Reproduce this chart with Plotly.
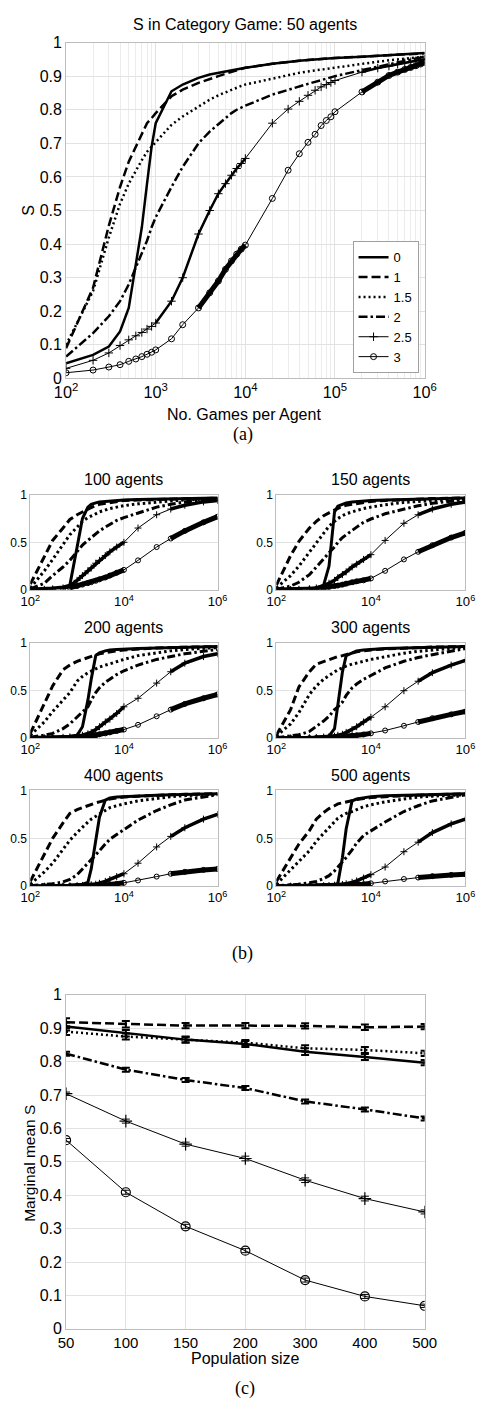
import plotly.graph_objects as go

# ---------------- data ----------------
LABELS = ["0", "1", "1.5", "2", "2.5", "3"]

# (a) 50 agents
GAMES_A = [100, 200, 300, 400, 500, 600, 700, 800, 900, 1000, 1500, 2000, 3000, 4000, 5000,
           6000, 7000, 8000, 9000, 10000, 20000, 30000, 40000, 50000, 60000, 70000, 80000,
           90000, 100000, 200000, 300000, 400000, 500000, 600000, 700000, 800000, 900000, 1000000]
A_0 = [0.045, 0.07, 0.095, 0.14, 0.21, 0.34, 0.45, 0.58, 0.69, 0.76, 0.855, 0.875, 0.895, 0.905, 0.91,
       0.915, 0.918, 0.92, 0.922, 0.925, 0.937, 0.943, 0.946, 0.948, 0.95, 0.951, 0.952, 0.953,
       0.954, 0.958, 0.961, 0.963, 0.964, 0.965, 0.966, 0.967, 0.968, 0.969]
A_1 = [0.09, 0.27, 0.455, 0.57, 0.645, 0.69, 0.73, 0.76, 0.775, 0.79, 0.84, 0.86, 0.88, 0.89, 0.9,
       0.907, 0.912, 0.916, 0.92, 0.925, 0.937, 0.943, 0.946, 0.948, 0.95, 0.951, 0.952, 0.953,
       0.954, 0.958, 0.96, 0.962, 0.963, 0.964, 0.965, 0.966, 0.967, 0.968]
A_15 = [0.1, 0.26, 0.42, 0.52, 0.58, 0.62, 0.65, 0.675, 0.69, 0.705, 0.755, 0.78, 0.81, 0.83, 0.843,
        0.852, 0.86, 0.866, 0.871, 0.875, 0.893, 0.903, 0.91, 0.914, 0.917, 0.92, 0.923, 0.925,
        0.927, 0.938, 0.943, 0.947, 0.95, 0.952, 0.954, 0.956, 0.957, 0.958]
A_2 = [0.065, 0.135, 0.185, 0.23, 0.28, 0.33, 0.37, 0.41, 0.45, 0.48, 0.57, 0.63, 0.7, 0.735, 0.757,
       0.775, 0.79, 0.8, 0.807, 0.812, 0.845, 0.86, 0.87, 0.877, 0.883, 0.888, 0.892, 0.896,
       0.9, 0.918, 0.928, 0.935, 0.94, 0.945, 0.949, 0.952, 0.955, 0.958]
A_25 = [0.03, 0.054, 0.076, 0.098, 0.115, 0.127, 0.137, 0.147, 0.155, 0.165, 0.23, 0.3, 0.43, 0.5, 0.55,
        0.58, 0.605, 0.625, 0.64, 0.655, 0.76, 0.802, 0.825, 0.843, 0.858, 0.868, 0.875, 0.881,
        0.887, 0.912, 0.924, 0.93, 0.936, 0.94, 0.943, 0.946, 0.948, 0.95]
A_3 = [0.017, 0.025, 0.034, 0.041, 0.051, 0.058, 0.065, 0.072, 0.078, 0.085, 0.118, 0.16, 0.21, 0.255,
       0.29, 0.325, 0.35, 0.37, 0.385, 0.397, 0.536, 0.62, 0.669, 0.703, 0.727, 0.753, 0.768,
       0.779, 0.794, 0.853, 0.882, 0.902, 0.912, 0.92, 0.926, 0.931, 0.936, 0.941]

# (b) population panels
GAMES_B = [100, 200, 300, 500, 700, 1000, 1300, 1700, 2000, 2500, 3000, 4000, 5000, 7000,
           10000, 20000, 50000, 100000, 200000, 500000, 1000000]

P100_0 = [0.01, 0.015, 0.02, 0.03, 0.05, 0.45, 0.75, 0.87, 0.9, 0.915, 0.925, 0.93, 0.935, 0.94, 0.945, 0.95, 0.955, 0.958, 0.96, 0.963, 0.965]
P100_1 = [0.06, 0.34, 0.52, 0.65, 0.74, 0.79, 0.82, 0.85, 0.87, 0.89, 0.9, 0.91, 0.92, 0.93, 0.94, 0.945, 0.95, 0.955, 0.958, 0.962, 0.965]
P100_15 = [0.02, 0.2, 0.32, 0.48, 0.58, 0.66, 0.72, 0.76, 0.78, 0.8, 0.82, 0.84, 0.855, 0.87, 0.885, 0.905, 0.925, 0.935, 0.945, 0.955, 0.96]
P100_2 = [0.01, 0.07, 0.15, 0.24, 0.31, 0.4, 0.47, 0.52, 0.55, 0.59, 0.62, 0.66, 0.69, 0.73, 0.76, 0.81, 0.87, 0.9, 0.925, 0.945, 0.955]
P100_25 = [0.0, 0.005, 0.01, 0.02, 0.04, 0.1, 0.15, 0.2, 0.23, 0.28, 0.31, 0.36, 0.4, 0.45, 0.5, 0.65, 0.79, 0.85, 0.89, 0.925, 0.94]
P100_3 = [0.0, 0.002, 0.004, 0.01, 0.02, 0.04, 0.055, 0.07, 0.08, 0.095, 0.11, 0.13, 0.15, 0.18, 0.21, 0.31, 0.45, 0.54, 0.62, 0.71, 0.77]

P150_0 = [0.01, 0.012, 0.015, 0.02, 0.02, 0.05, 0.25, 0.82, 0.88, 0.9, 0.915, 0.925, 0.93, 0.935, 0.94, 0.945, 0.95, 0.955, 0.958, 0.962, 0.965]
P150_1 = [0.05, 0.36, 0.51, 0.65, 0.72, 0.78, 0.81, 0.84, 0.86, 0.88, 0.89, 0.9, 0.91, 0.92, 0.93, 0.94, 0.95, 0.955, 0.96, 0.963, 0.966]
P150_15 = [0.02, 0.15, 0.25, 0.4, 0.5, 0.6, 0.67, 0.72, 0.75, 0.78, 0.8, 0.82, 0.835, 0.855, 0.87, 0.895, 0.92, 0.93, 0.94, 0.95, 0.955]
P150_2 = [0.005, 0.04, 0.08, 0.16, 0.24, 0.33, 0.39, 0.45, 0.5, 0.55, 0.58, 0.63, 0.66, 0.71, 0.745, 0.8, 0.85, 0.885, 0.91, 0.935, 0.95]
P150_25 = [0.0, 0.003, 0.006, 0.012, 0.02, 0.04, 0.07, 0.1, 0.13, 0.16, 0.19, 0.24, 0.27, 0.32, 0.37, 0.52, 0.7, 0.79, 0.85, 0.9, 0.925]
P150_3 = [0.0, 0.001, 0.002, 0.005, 0.01, 0.02, 0.03, 0.04, 0.045, 0.055, 0.065, 0.08, 0.09, 0.1, 0.12, 0.2, 0.32, 0.4, 0.47, 0.55, 0.6]

P200_0 = [0.005, 0.008, 0.01, 0.015, 0.02, 0.03, 0.12, 0.4, 0.62, 0.87, 0.9, 0.92, 0.93, 0.935, 0.94, 0.945, 0.95, 0.955, 0.958, 0.962, 0.965]
P200_1 = [0.05, 0.36, 0.55, 0.72, 0.77, 0.81, 0.83, 0.85, 0.865, 0.88, 0.89, 0.9, 0.91, 0.92, 0.93, 0.94, 0.95, 0.955, 0.96, 0.963, 0.966]
P200_15 = [0.03, 0.17, 0.28, 0.4, 0.48, 0.6, 0.65, 0.69, 0.71, 0.73, 0.75, 0.77, 0.79, 0.81, 0.83, 0.87, 0.9, 0.92, 0.935, 0.95, 0.955]
P200_2 = [0.01, 0.03, 0.05, 0.1, 0.15, 0.22, 0.28, 0.33, 0.4, 0.48, 0.53, 0.59, 0.62, 0.67, 0.71, 0.77, 0.83, 0.86, 0.89, 0.915, 0.935]
P200_25 = [0.0, 0.002, 0.004, 0.008, 0.012, 0.02, 0.03, 0.045, 0.06, 0.09, 0.12, 0.17, 0.2, 0.26, 0.33, 0.42, 0.58, 0.7, 0.79, 0.86, 0.89]
P200_3 = [0.0, 0.0, 0.001, 0.003, 0.005, 0.01, 0.015, 0.02, 0.025, 0.03, 0.04, 0.05, 0.06, 0.075, 0.09, 0.14, 0.23, 0.3, 0.36, 0.42, 0.46]

P300_0 = [0.005, 0.007, 0.008, 0.01, 0.01, 0.01, 0.02, 0.1, 0.35, 0.7, 0.87, 0.9, 0.92, 0.93, 0.935, 0.945, 0.95, 0.955, 0.958, 0.962, 0.965]
P300_1 = [0.03, 0.3, 0.54, 0.7, 0.78, 0.81, 0.83, 0.85, 0.86, 0.87, 0.88, 0.9, 0.91, 0.92, 0.93, 0.94, 0.95, 0.955, 0.96, 0.963, 0.966]
P300_15 = [0.02, 0.15, 0.27, 0.46, 0.55, 0.62, 0.66, 0.7, 0.72, 0.74, 0.76, 0.78, 0.79, 0.81, 0.83, 0.86, 0.895, 0.915, 0.93, 0.945, 0.955]
P300_2 = [0.005, 0.02, 0.035, 0.07, 0.12, 0.18, 0.23, 0.3, 0.33, 0.38, 0.45, 0.53, 0.57, 0.62, 0.66, 0.74, 0.81, 0.85, 0.88, 0.915, 0.945]
P300_25 = [0.0, 0.001, 0.002, 0.004, 0.006, 0.01, 0.015, 0.02, 0.03, 0.04, 0.06, 0.09, 0.12, 0.17, 0.22, 0.33, 0.5, 0.6, 0.69, 0.77, 0.82]
P300_3 = [0.0, 0.0, 0.0, 0.001, 0.002, 0.005, 0.007, 0.01, 0.012, 0.015, 0.018, 0.024, 0.03, 0.038, 0.05, 0.08, 0.13, 0.17, 0.21, 0.25, 0.28]

P400_0 = [0.005, 0.006, 0.007, 0.008, 0.009, 0.01, 0.02, 0.04, 0.18, 0.48, 0.72, 0.9, 0.92, 0.93, 0.935, 0.945, 0.95, 0.955, 0.958, 0.962, 0.965]
P400_1 = [0.05, 0.34, 0.5, 0.66, 0.76, 0.8, 0.82, 0.84, 0.86, 0.87, 0.88, 0.9, 0.91, 0.92, 0.93, 0.94, 0.95, 0.955, 0.96, 0.963, 0.966]
P400_15 = [0.02, 0.15, 0.24, 0.38, 0.48, 0.56, 0.62, 0.67, 0.7, 0.73, 0.75, 0.79, 0.82, 0.84, 0.86, 0.89, 0.92, 0.935, 0.945, 0.955, 0.96]
P400_2 = [0.005, 0.015, 0.025, 0.045, 0.07, 0.12, 0.18, 0.24, 0.27, 0.33, 0.37, 0.44, 0.49, 0.54, 0.59, 0.69, 0.79, 0.85, 0.9, 0.935, 0.955]
P400_25 = [0.0, 0.0, 0.001, 0.002, 0.003, 0.005, 0.008, 0.01, 0.015, 0.02, 0.03, 0.05, 0.07, 0.1, 0.13, 0.24, 0.41, 0.52, 0.61, 0.7, 0.75]
P400_3 = [0.0, 0.0, 0.0, 0.0, 0.001, 0.002, 0.003, 0.005, 0.006, 0.008, 0.01, 0.015, 0.018, 0.025, 0.035, 0.06, 0.1, 0.13, 0.15, 0.17, 0.18]

P500_0 = [0.005, 0.006, 0.007, 0.008, 0.009, 0.01, 0.012, 0.015, 0.03, 0.3, 0.6, 0.89, 0.91, 0.925, 0.935, 0.945, 0.95, 0.955, 0.958, 0.962, 0.965]
P500_1 = [0.05, 0.3, 0.44, 0.58, 0.7, 0.77, 0.81, 0.84, 0.86, 0.87, 0.88, 0.895, 0.905, 0.915, 0.925, 0.935, 0.945, 0.95, 0.955, 0.96, 0.965]
P500_15 = [0.02, 0.17, 0.25, 0.37, 0.47, 0.55, 0.62, 0.67, 0.71, 0.74, 0.76, 0.78, 0.8, 0.83, 0.85, 0.88, 0.91, 0.93, 0.94, 0.95, 0.955]
P500_2 = [0.005, 0.01, 0.02, 0.035, 0.05, 0.08, 0.11, 0.16, 0.2, 0.25, 0.3, 0.38, 0.45, 0.53, 0.58, 0.67, 0.78, 0.84, 0.89, 0.93, 0.955]
P500_25 = [0.0, 0.0, 0.001, 0.002, 0.003, 0.005, 0.007, 0.01, 0.013, 0.018, 0.025, 0.04, 0.055, 0.085, 0.12, 0.2, 0.36, 0.46, 0.56, 0.65, 0.7]
P500_3 = [0.0, 0.0, 0.0, 0.0, 0.001, 0.002, 0.003, 0.004, 0.005, 0.007, 0.009, 0.012, 0.015, 0.02, 0.03, 0.05, 0.075, 0.09, 0.105, 0.118, 0.125]

PANEL_TITLES = ["100 agents", "150 agents", "200 agents", "300 agents", "400 agents", "500 agents"]
PANEL_SERIES = [
    [P100_0, P100_1, P100_15, P100_2, P100_25, P100_3],
    [P150_0, P150_1, P150_15, P150_2, P150_25, P150_3],
    [P200_0, P200_1, P200_15, P200_2, P200_25, P200_3],
    [P300_0, P300_1, P300_15, P300_2, P300_25, P300_3],
    [P400_0, P400_1, P400_15, P400_2, P400_25, P400_3],
    [P500_0, P500_1, P500_15, P500_2, P500_25, P500_3],
]

# (c) marginal mean S vs population size
POP = ["50", "100", "150", "200", "300", "400", "500"]
C_0 = [0.905, 0.885, 0.866, 0.853, 0.83, 0.814, 0.797]
C_1 = [0.918, 0.912, 0.908, 0.908, 0.907, 0.903, 0.905]
C_15 = [0.89, 0.875, 0.866, 0.857, 0.84, 0.835, 0.825]
C_2 = [0.824, 0.776, 0.745, 0.721, 0.681, 0.657, 0.63]
C_25 = [0.704, 0.622, 0.553, 0.51, 0.445, 0.39, 0.35]
C_3 = [0.565, 0.409, 0.307, 0.234, 0.146, 0.097, 0.069]
E_0 = [0.012, 0.01, 0.009, 0.009, 0.01, 0.009, 0.008]
E_1 = [0.012, 0.01, 0.008, 0.008, 0.008, 0.008, 0.008]
E_15 = [0.01, 0.009, 0.008, 0.008, 0.009, 0.009, 0.008]
E_2 = [0.006, 0.006, 0.006, 0.006, 0.006, 0.006, 0.006]
E_25 = [0.005, 0.006, 0.006, 0.007, 0.007, 0.007, 0.006]
E_3 = [0.005, 0.006, 0.006, 0.006, 0.006, 0.006, 0.005]

# ---------------- styling ----------------
SANS = "Liberation Sans, Arial, sans-serif"
SERIF = "Liberation Serif, Times New Roman, serif"
GRID = "#e2e2e2"
FRAME = "#bdbdbd"

DASH_A = ["solid", "9px,4px", "2px,3px", "9px,3px,2.5px,3px", "solid", "solid"]
WIDTH_A = [2.5, 2.5, 2.5, 2.5, 1, 1]
DASH_B = ["solid", "8px,4px", "2.5px,3px", "8px,3px,2.5px,3px", "solid", "solid"]
WIDTH_B = [3, 3, 3, 3, 1, 1]
SYMBOLS = [None, None, None, None, "cross-thin-open", "circle-open"]

fig = go.Figure()


def segs(xs, ys, ranges):
    ox, oy = [], []
    for lo, hi in ranges:
        for x, y in zip(xs, ys):
            if lo <= x <= hi:
                ox.append(x)
                oy.append(y)
        ox.append(None)
        oy.append(None)
    return ox, oy


def add_curves(xs, series, xa, ya, dashes, widths, msize, over_ranges, over_widths, legend):
    for i, ys in enumerate(series):
        tr = dict(x=xs, y=ys, xaxis=xa, yaxis=ya, name=LABELS[i], showlegend=legend,
                  line=dict(color="black", width=widths[i], dash=dashes[i]), hoverinfo="skip")
        if SYMBOLS[i]:
            tr["mode"] = "lines+markers"
            tr["marker"] = dict(symbol=SYMBOLS[i], size=msize, color="black",
                                line=dict(color="black", width=1))
        else:
            tr["mode"] = "lines"
        fig.add_trace(go.Scatter(**tr))
        if SYMBOLS[i]:
            ox, oy = segs(xs, ys, over_ranges[i])
            fig.add_trace(go.Scatter(x=ox, y=oy, xaxis=xa, yaxis=ya, mode="lines",
                                     showlegend=False, hoverinfo="skip",
                                     line=dict(color="black", width=over_widths[i])))


# (a)
add_curves(GAMES_A, [A_0, A_1, A_15, A_2, A_25, A_3], "x", "y", DASH_A, WIDTH_A, 6,
           {4: [(1000, 10000), (200000, 1000000)], 5: [(3000, 10000), (200000, 1000000)]},
           {4: 2.5, 5: 5}, True)

# (b)
for k, series in enumerate(PANEL_SERIES):
    n = k + 2
    add_curves(GAMES_B, series, "x%d" % n, "y%d" % n, DASH_B, WIDTH_B, 5,
               {4: [(500, 10000), (100000, 1000000)], 5: [(700, 10000), (100000, 1000000)]},
               {4: 3.5, 5: 5}, False)

# (c)
C_SERIES = [C_0, C_1, C_15, C_2, C_25, C_3]
E_SERIES = [E_0, E_1, E_15, E_2, E_25, E_3]
C_WIDTH = [2.5, 2.5, 2.5, 2.5, 1, 1]
for i, ys in enumerate(C_SERIES):
    tr = dict(x=POP, y=ys, xaxis="x8", yaxis="y8", name=LABELS[i], showlegend=False,
              line=dict(color="black", width=C_WIDTH[i], dash=DASH_A[i]), hoverinfo="skip",
              error_y=dict(type="data", array=E_SERIES[i], color="black",
                           thickness=2 if i < 4 else 1, width=4))
    if SYMBOLS[i]:
        tr["mode"] = "lines+markers"
        tr["marker"] = dict(symbol=SYMBOLS[i], size=9, color="black",
                            line=dict(color="black", width=1.2))
    else:
        tr["mode"] = "lines"
    fig.add_trace(go.Scatter(**tr))

# ---------------- axes ----------------
common = dict(showline=True, mirror=True, linecolor=FRAME, linewidth=1, gridcolor=GRID,
              zeroline=False, ticks="", color="black")

layout = dict(
    width=486, height=1405, margin=dict(l=0, r=0, t=0, b=0),
    paper_bgcolor="white", plot_bgcolor="white",
    font=dict(family=SANS, color="black", size=14),
    showlegend=True,
    legend=dict(x=0.7387, y=0.832, xanchor="left", yanchor="top", bgcolor="white",
                bordercolor="#a0a0a0", borderwidth=1, font=dict(size=13, family=SANS),
                tracegroupgap=0, itemwidth=30),
)

layout["xaxis"] = dict(common, domain=[0.1173, 0.8951], anchor="y", type="log", range=[2, 6],
                       dtick=1, exponentformat="power", tickfont=dict(size=13, family=SANS),
                       minor=dict(dtick="D1", showgrid=True, gridcolor="#ececec"))
layout["yaxis"] = dict(common, domain=[0.7331, 0.9751], anchor="x", range=[0, 1], dtick=0.1,
                       tickfont=dict(size=16, family=SANS))

XL = [0.0397, 0.4459]
XR = [0.5735, 0.9835]
ROWS = [[0.5808, 0.6493], [0.4740, 0.5423], [0.3673, 0.4363]]
for k in range(6):
    n = k + 2
    xd = XL if k % 2 == 0 else XR
    yd = ROWS[k // 2]
    layout["xaxis%d" % n] = dict(common, domain=xd, anchor="y%d" % n, type="log", range=[2, 6],
                                 dtick=2, tick0=0, exponentformat="power",
                                 tickfont=dict(size=10.5, family=SANS))
    layout["yaxis%d" % n] = dict(common, domain=yd, anchor="x%d" % n, range=[0, 1],
                                 tickvals=[0, 0.5, 1], ticktext=["0", "0.5", "1"],
                                 tickfont=dict(size=12, family=SANS))

layout["xaxis8"] = dict(common, domain=[0.1173, 0.8951], anchor="y8", type="category",
                        range=[0, 6], tickfont=dict(size=15, family=SANS))
layout["yaxis8"] = dict(common, domain=[0.0484, 0.2890], anchor="x8", range=[0, 1], dtick=0.1,
                        tickfont=dict(size=16, family=SANS))

# ---------------- annotations ----------------
ann = []


def txt(x, y, s, size, family=SANS, angle=0):
    ann.append(dict(x=x / 486.0, y=1 - y / 1405.0, xref="paper", yref="paper", text=s,
                    showarrow=False, font=dict(size=size, family=family, color="black"),
                    textangle=angle, xanchor="center", yanchor="middle"))


txt(246, 17, "S in Category Game: 50 agents", 16)
txt(245, 411, "No. Games per Agent", 16)
txt(17, 205, "S", 16, angle=-90)
txt(243, 432, "(a)", 18, SERIF)
PANEL_POS = [(118, 477), (378, 477), (118, 627), (378, 627), (118, 777), (378, 777)]
for (px, py), t in zip(PANEL_POS, PANEL_TITLES):
    txt(px, py, t, 16)
txt(243, 957, "(b)", 18, SERIF)
txt(246, 1367, "Population size", 16)
txt(19, 1170, "Marginal mean S", 15.5, angle=-90)
txt(246, 1397, "(c)", 18, SERIF)
layout["annotations"] = ann

fig.update_layout(**layout)
fig.write_html("out.html")
